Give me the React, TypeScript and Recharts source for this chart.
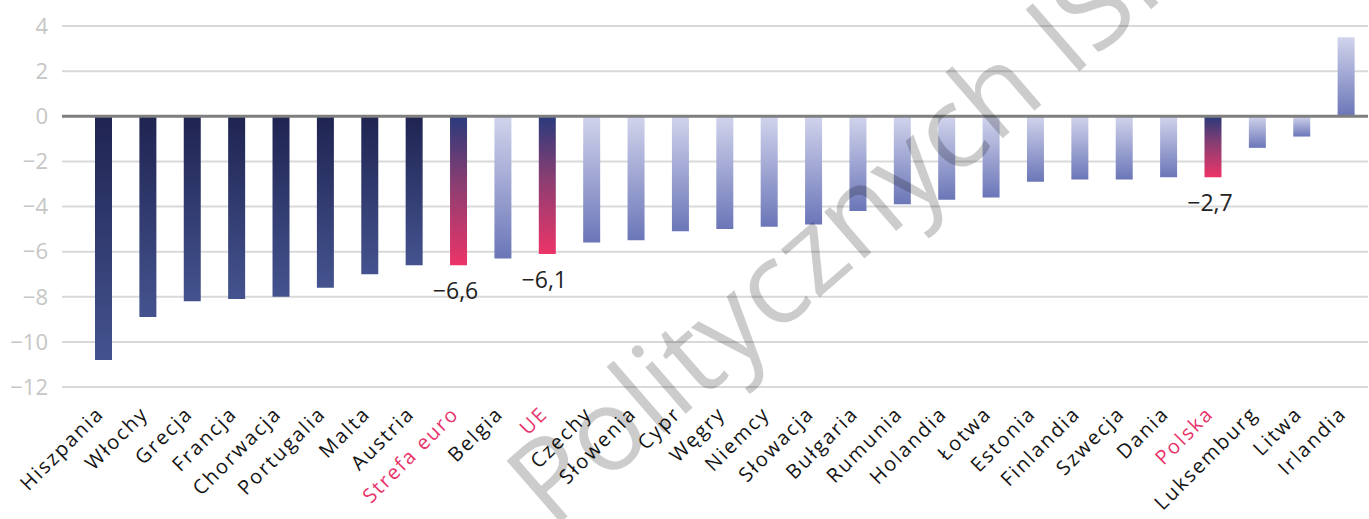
import { BarChart, Bar, XAxis, YAxis, CartesianGrid, ReferenceLine, Cell, LabelList } from 'recharts';

const countries = [
  'Hiszpania', 'Włochy', 'Grecja', 'Francja', 'Chorwacja', 'Portugalia', 'Malta', 'Austria',
  'Strefa euro', 'Belgia', 'UE', 'Czechy', 'Słowenia', 'Cypr', 'Węgry', 'Niemcy', 'Słowacja',
  'Bułgaria', 'Rumunia', 'Holandia', 'Łotwa', 'Estonia', 'Finlandia', 'Szwecja', 'Dania',
  'Polska', 'Luksemburg', 'Litwa', 'Irlandia',
];
const balance = [
  -10.8, -8.9, -8.2, -8.1, -8.0, -7.6, -7.0, -6.6,
  -6.6, -6.3, -6.1, -5.6, -5.5, -5.1, -5.0, -4.9, -4.8,
  -4.2, -3.9, -3.7, -3.6, -2.9, -2.8, -2.8, -2.7,
  -2.7, -1.4, -0.9, 3.5,
];
const yTicks = [4, 2, 0, -2, -4, -6, -8, -10, -12];
// aggregates + Poland are highlighted in pink and get a value label
const highlighted = ['Strefa euro', 'UE', 'Polska'];
const darkGroup = ['Hiszpania', 'Włochy', 'Grecja', 'Francja', 'Chorwacja', 'Portugalia', 'Malta', 'Austria'];
const watermark = 'Politycznych ISP';

const data = countries.map((name, i) => ({ name, value: balance[i] }));

const fmt = (v: number) => String(v).replace('-', '−').replace('.', ',');

const FONT = '"Open Sans", sans-serif';

function fillFor(name: string) {
  if (highlighted.includes(name)) return 'url(#gradAccent)';
  if (darkGroup.includes(name)) return 'url(#gradDark)';
  return 'url(#gradLight)';
}

function CountryTick({ x, y, payload }: any) {
  const accent = highlighted.includes(payload.value);
  const tx = x + 2;
  const ty = y + 20;
  return (
    <text
      x={tx}
      y={ty}
      transform={`rotate(-45, ${tx}, ${ty})`}
      textAnchor="end"
      fontSize={20}
      letterSpacing={2}
      fontFamily={FONT}
      fill={accent ? '#e8336b' : '#141414'}
    >
      {payload.value}
    </text>
  );
}

function ValueLabel(props: any) {
  const { x, y, width, height, value, index } = props;
  if (!highlighted.includes(countries[index])) return null;
  const bottom = Math.max(y, y + height);
  return (
    <text x={x + width / 2 - 3} y={bottom + 34} textAnchor="middle" fontSize={23} fontFamily={FONT} fill="#222">
      {fmt(value)}
    </text>
  );
}

export default function App() {
  return (
    <div style={{ position: 'absolute', left: 0, top: 0, width: 1369, height: 519, background: '#fff' }}>
      <svg width={0} height={0} style={{ position: 'absolute' }}>
        <defs>
          <linearGradient id="gradDark" x1="0" y1="0" x2="0" y2="1">
            <stop offset="0%" stopColor="#1f2451" />
            <stop offset="100%" stopColor="#44538f" />
          </linearGradient>
          <linearGradient id="gradLight" x1="0" y1="0" x2="0" y2="1">
            <stop offset="0%" stopColor="#d1d4ec" />
            <stop offset="100%" stopColor="#6b76b8" />
          </linearGradient>
          <linearGradient id="gradAccent" x1="0" y1="0" x2="0" y2="1">
            <stop offset="0%" stopColor="#293a7c" />
            <stop offset="45%" stopColor="#8a3e72" />
            <stop offset="100%" stopColor="#ec3468" />
          </linearGradient>
        </defs>
      </svg>
      <BarChart width={1369} height={519} data={data} margin={{ top: 26, right: 1, left: 0, bottom: 0 }}>
        <CartesianGrid vertical={false} stroke="#d9d9d9" strokeWidth={2} />
        <XAxis
          dataKey="name"
          interval={0}
          height={132}
          axisLine={false}
          tickLine={false}
          padding={{ left: 19, right: 0 }}
          tick={<CountryTick />}
        />
        <YAxis
          width={62}
          domain={[-12, 4]}
          ticks={yTicks}
          axisLine={false}
          tickLine={false}
          tickMargin={8}
          tickFormatter={fmt}
          tick={{ fill: '#c6c6c6', fontSize: 22, fontFamily: FONT }}
        />
        <Bar dataKey="value" barSize={17} isAnimationActive={false}>
          {data.map((d) => (
            <Cell key={d.name} fill={fillFor(d.name)} />
          ))}
          <LabelList dataKey="value" content={<ValueLabel />} />
        </Bar>
        <ReferenceLine y={0} stroke="#7f7f7f" strokeWidth={3} />
      </BarChart>
      <svg width={1369} height={519} style={{ position: 'absolute', left: 0, top: 0, pointerEvents: 'none' }}>
        <text
          x={552}
          y={530}
          transform="rotate(-41, 552, 530)"
          fontSize={115}
          fontWeight={500}
          fontFamily={FONT}
          fill="#000"
          fillOpacity={0.2}
        >
          {watermark}
        </text>
      </svg>
    </div>
  );
}
